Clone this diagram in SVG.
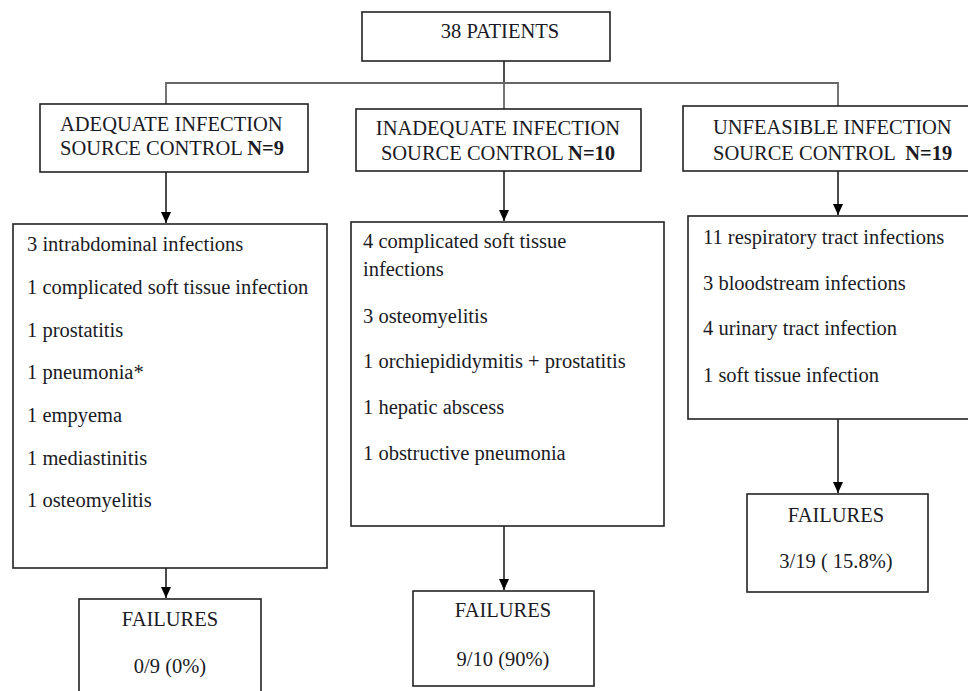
<svg xmlns="http://www.w3.org/2000/svg" width="968" height="691" viewBox="0 0 968 691">
<defs>
<marker id="ah" markerWidth="12" markerHeight="12" refX="6" refY="10" orient="auto" markerUnits="userSpaceOnUse" viewBox="0 0 12 12">
<path d="M1,0 L11,0 L6,11 Z" fill="#000" transform="rotate(-90 6 6)"/>
</marker>
<marker id="arr" markerWidth="12" markerHeight="12" refX="11" refY="6" orient="auto" markerUnits="userSpaceOnUse">
<path d="M0,1 L11,6 L0,11 Z" fill="#000"/>
</marker>
</defs>
<style>
.box{fill:#fff;stroke:#222;stroke-width:1.6}
.t{font-family:"Liberation Serif","Times New Roman",serif;font-size:20.5px;fill:#1a1a24}
.c{text-anchor:middle}
.b{font-weight:bold}
.con{stroke:#111;stroke-width:1.5;fill:none}
.gr{stroke:#666;stroke-width:1.8;fill:none}
</style>
<rect width="968" height="691" fill="#fff"/>
<g id="connectors">
<line class="con" x1="504" y1="61" x2="504" y2="84"/>
<polyline class="gr" points="166,104 166,83 838,83 838,106"/>
<line class="gr" x1="504" y1="84" x2="504" y2="109"/>
<line class="con" x1="166" y1="172" x2="166" y2="223" marker-end="url(#arr)"/>
<line class="con" x1="504" y1="171" x2="504" y2="221" marker-end="url(#arr)"/>
<line class="con" x1="838" y1="171" x2="838" y2="215" marker-end="url(#arr)"/>
<line class="con" x1="166" y1="568" x2="166" y2="598" marker-end="url(#arr)"/>
<line class="con" x1="504" y1="526" x2="504" y2="590" marker-end="url(#arr)"/>
<line class="con" x1="838" y1="419" x2="838" y2="493" marker-end="url(#arr)"/>
</g>
<g id="patients">
<rect class="box" x="362" y="12" width="248" height="49"/>
<text class="t c" x="500" y="38">38 PATIENTS</text>
</g>
<g id="adequate">
<rect class="box" x="40" y="104" width="268" height="68"/>
<text class="t" x="60" y="131">ADEQUATE INFECTION</text>
<text class="t" x="60" y="155">SOURCE CONTROL <tspan class="b">N=9</tspan></text>
</g>
<g id="inadequate">
<rect class="box" x="356" y="109" width="285" height="62"/>
<text class="t c" x="498" y="135">INADEQUATE INFECTION</text>
<text class="t c" x="498" y="160">SOURCE CONTROL <tspan class="b">N=10</tspan></text>
</g>
<g id="unfeasible">
<rect class="box" x="683" y="106" width="295" height="65"/>
<text class="t" x="713" y="134">UNFEASIBLE INFECTION</text>
<text class="t" x="713" y="160" xml:space="preserve">SOURCE CONTROL  <tspan class="b">N=19</tspan></text>
</g>
<g id="adequate-list">
<rect class="box" x="13" y="224" width="314" height="344"/>
<text class="t" x="27" y="251">3 intrabdominal infections</text>
<text class="t" x="27" y="294">1 complicated soft tissue infection</text>
<text class="t" x="27" y="337">1 prostatitis</text>
<text class="t" x="27" y="379">1 pneumonia*</text>
<text class="t" x="27" y="422">1 empyema</text>
<text class="t" x="27" y="465">1 mediastinitis</text>
<text class="t" x="27" y="507">1 osteomyelitis</text>
</g>
<g id="inadequate-list">
<rect class="box" x="351" y="222" width="313" height="304"/>
<text class="t" x="363" y="248">4 complicated soft tissue</text>
<text class="t" x="363" y="276">infections</text>
<text class="t" x="363" y="323">3 osteomyelitis</text>
<text class="t" x="363" y="368">1 orchiepididymitis + prostatitis</text>
<text class="t" x="363" y="414">1 hepatic abscess</text>
<text class="t" x="363" y="460">1 obstructive pneumonia</text>
</g>
<g id="unfeasible-list">
<rect class="box" x="688" y="216" width="290" height="203"/>
<text class="t" x="703" y="244">11 respiratory tract infections</text>
<text class="t" x="703" y="290">3 bloodstream infections</text>
<text class="t" x="703" y="335">4 urinary tract infection</text>
<text class="t" x="703" y="382">1 soft tissue infection</text>
</g>
<g id="failures-adequate">
<rect class="box" x="79" y="599" width="182" height="100"/>
<text class="t c" x="170" y="626">FAILURES</text>
<text class="t c" x="170" y="673">0/9 (0%)</text>
</g>
<g id="failures-inadequate">
<rect class="box" x="413" y="591" width="181" height="95"/>
<text class="t c" x="503" y="617">FAILURES</text>
<text class="t c" x="503" y="666">9/10 (90%)</text>
</g>
<g id="failures-unfeasible">
<rect class="box" x="747" y="494" width="181" height="98"/>
<text class="t c" x="836" y="522">FAILURES</text>
<text class="t c" x="836" y="568">3/19 ( 15.8%)</text>
</g>
</svg>
